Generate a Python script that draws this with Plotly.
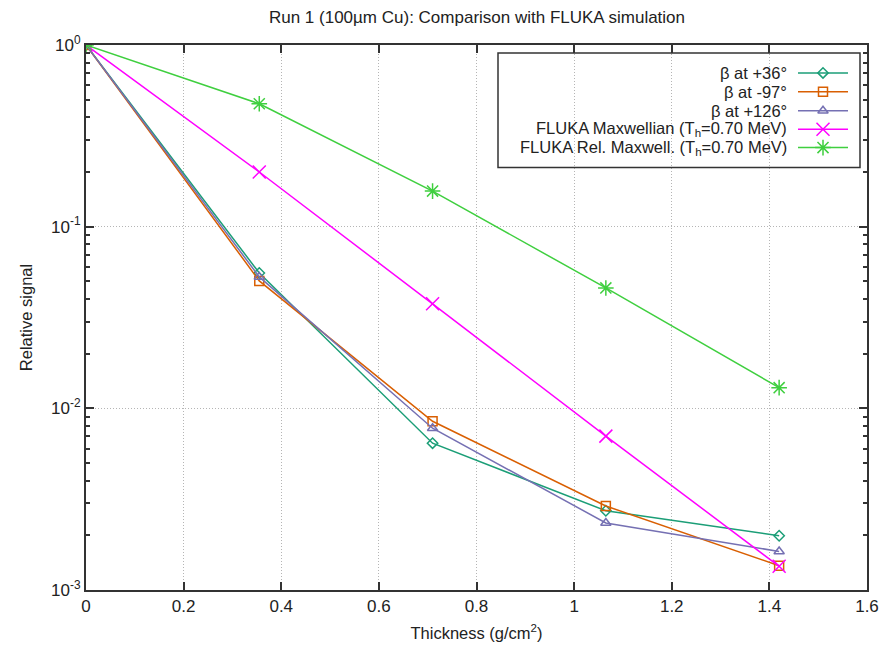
import plotly.graph_objects as go

# Absorber thickness (g/cm^2) for each measurement step
thickness = [0.0, 0.355, 0.71, 1.065, 1.42]

# Measured relative signal per detector angle
beta_p36 = [1.0, 0.0556, 0.00643, 0.00273, 0.00199]
beta_m97 = [1.0, 0.0503, 0.00849, 0.00290, 0.00136]
beta_p126 = [1.0, 0.0529, 0.00777, 0.00234, 0.00163]

# FLUKA predictions
fluka_maxw = [1.0, 0.200, 0.0376, 0.00703, 0.00135]
fluka_relmaxw = [1.0, 0.475, 0.157, 0.0460, 0.0130]

series = [
    ("β at +36°", beta_p36, "#1b9e77", "diamond-open", 8),
    ("β at -97°", beta_m97, "#d95f02", "square-open", 9),
    ("β at +126°", beta_p126, "#7570b3", "triangle-up-open", 9),
    ("FLUKA Maxwellian (T<sub>h</sub>=0.70 MeV)", fluka_maxw, "#ff00ff", "x-thin-open", 13),
    ("FLUKA Rel. Maxwell. (T<sub>h</sub>=0.70 MeV)", fluka_relmaxw, "#3fcf3f", "asterisk-open", 13),
]

# minor ticks on the log axis: 2..9 within each decade
minor_vals = [m * 10.0 ** e for e in (-3, -2, -1) for m in range(2, 10)]

FONT = "Liberation Sans, Arial, sans-serif"
TXT = "#222"
AX = "#333"
L, R, T, B = 86, 867, 45, 592  # plot-area edges in pixels

fig = go.Figure()
for name, vals, col, sym, size in series:
    fig.add_trace(go.Scatter(
        x=thickness, y=vals, mode="lines+markers", name=name,
        line=dict(color=col, width=1.5),
        marker=dict(symbol=sym, size=size, color=col, line=dict(color=col, width=1.5)),
        showlegend=False,
    ))

# Key: right-aligned labels with line/marker samples to their right
row_y = [73, 92, 111, 129.5, 148]
for (name, vals, col, sym, size), yy in zip(series, row_y):
    fig.add_trace(go.Scatter(
        x=[798, 823, 848], y=[yy, yy, yy], mode="lines",
        line=dict(color=col, width=1.5), xaxis="x2", yaxis="y2",
        showlegend=False, hoverinfo="skip",
    ))
    fig.add_trace(go.Scatter(
        x=[823], y=[yy], mode="markers",
        marker=dict(symbol=sym, size=size, color=col, line=dict(color=col, width=1.5)),
        xaxis="x2", yaxis="y2", showlegend=False, hoverinfo="skip",
    ))
    fig.add_annotation(
        x=789, y=yy, xref="x2", yref="y2", text=name, showarrow=False,
        xanchor="right", yanchor="middle", font=dict(family=FONT, size=16.5, color=TXT),
    )

fig.add_shape(type="rect", xref="x2", yref="y2", x0=498, x1=860, y0=53, y1=168,
              line=dict(color=AX, width=1.5), fillcolor="rgba(0,0,0,0)", layer="above")

grid = dict(showgrid=True, gridcolor="#b5b5b5", griddash="1px,2px", gridwidth=1)

# tick-only log axes carrying the minor ticks on both sides of the frame
minor_axis = dict(
    type="log", range=[-3, 0], overlaying="y", anchor="x",
    tickmode="array", tickvals=minor_vals, showticklabels=False,
    ticks="inside", ticklen=4, tickwidth=1.5, tickcolor=AX,
    showgrid=False, zeroline=False, showline=False, fixedrange=True,
)

fig.update_layout(
    width=896, height=652,
    margin=dict(l=L, r=896 - R, t=T, b=652 - B),
    paper_bgcolor="white", plot_bgcolor="white",
    font=dict(family=FONT, size=16, color=TXT),
    title=dict(text="Run 1 (100µm Cu): Comparison with FLUKA simulation",
               x=477 / 896, xanchor="center", y=1 - 17 / 652, yanchor="middle",
               font=dict(family=FONT, size=17, color=TXT)),
    xaxis=dict(
        range=[0, 1.6], tickvals=[0, 0.2, 0.4, 0.6, 0.8, 1, 1.2, 1.4, 1.6],
        ticktext=["0", "0.2", "0.4", "0.6", "0.8", "1", "1.2", "1.4", "1.6"],
        ticks="inside", ticklen=8, tickwidth=1.5, tickcolor=AX,
        showline=True, linecolor=AX, linewidth=2, mirror="ticks",
        zeroline=False, tickfont=dict(size=17), **grid,
        title=dict(text="Thickness (g/cm<sup>2</sup>)", font=dict(size=16.5), standoff=12),
    ),
    yaxis=dict(
        type="log", range=[-3, 0],
        tickvals=[1, 0.1, 0.01, 0.001],
        ticktext=["10<sup>0</sup>", "10<sup>-1</sup>", "10<sup>-2</sup>", "10<sup>-3</sup>"],
        ticks="inside", ticklen=8, tickwidth=1.5, tickcolor=AX,
        showline=True, linecolor=AX, linewidth=2, mirror="ticks",
        zeroline=False, tickfont=dict(size=17), **grid,
        title=dict(text="Relative signal", font=dict(size=16.5), standoff=14),
    ),
    yaxis3=dict(side="left", **minor_axis),
    yaxis4=dict(side="right", **minor_axis),
    xaxis2=dict(domain=[0, 1], range=[L, R], anchor="y2", overlaying="x",
                visible=False, fixedrange=True),
    yaxis2=dict(domain=[0, 1], range=[B, T], anchor="x2", overlaying="y",
                visible=False, fixedrange=True),
)

# invisible carriers so the minor-tick axes are rendered
for ax in ("y3", "y4"):
    fig.add_trace(go.Scatter(x=[None], y=[None], yaxis=ax, showlegend=False,
                             hoverinfo="skip"))

fig.write_html("out.html")
